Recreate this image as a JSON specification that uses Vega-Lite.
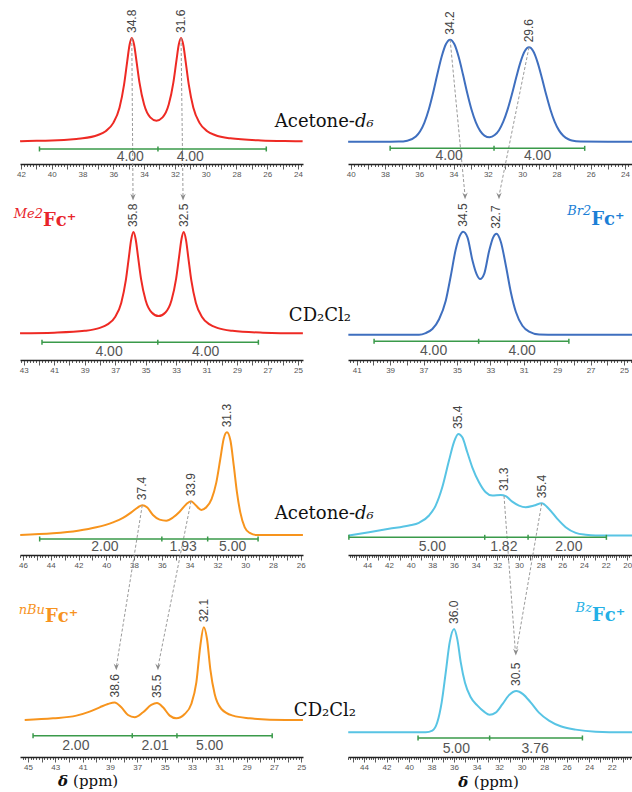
{
"$schema": "https://vega.github.io/schema/vega-lite/v6.json",
"background": "white",
"padding": {"left": 13, "top": 9, "right": 0, "bottom": 0},
"config": {
  "view": {"stroke": null},
  "axisX": {"domainColor": "#222", "domainWidth": 1.5, "tickColor": "#333", "tickWidth": 0.8, "labelFont": "Liberation Sans", "labelFontSize": 8, "labelColor": "#555", "labelPadding": 1, "grid": false},
  "style": {
    "peak": {"font": "Liberation Sans", "fontSize": 12, "color": "#444", "angle": 270, "align": "left", "baseline": "middle", "dx": 5},
    "ilab": {"font": "Liberation Sans", "fontSize": 14, "color": "#555", "align": "center", "baseline": "middle"},
    "solv": {"font": "DejaVu Serif", "fontSize": 18, "color": "#111", "baseline": "alphabetic"},
    "arrow": {"color": "#9a9a9a", "strokeDash": [3, 2], "strokeWidth": 1},
    "integ": {"color": "#3a9a4a", "strokeWidth": 1.5}
  }
},
"datasets": {
  "c1": [{"x":42.06,"y":0.007},{"x":42,"y":0.008},{"x":40,"y":0.015},{"x":38.4,"y":0.03},{"x":38,"y":0.035},{"x":37,"y":0.067},{"x":36.5,"y":0.104},{"x":36,"y":0.184},{"x":35.6,"y":0.33},{"x":35.3,"y":0.554},{"x":35.1,"y":0.773},{"x":34.95,"y":0.93},{"x":34.8,"y":1},{"x":34.65,"y":0.935},{"x":34.5,"y":0.783},{"x":34.3,"y":0.571},{"x":34,"y":0.36},{"x":33.6,"y":0.237},{"x":33.2,"y":0.205},{"x":32.8,"y":0.237},{"x":32.4,"y":0.36},{"x":32.1,"y":0.571},{"x":31.9,"y":0.783},{"x":31.75,"y":0.935},{"x":31.6,"y":1},{"x":31.45,"y":0.93},{"x":31.3,"y":0.773},{"x":31.1,"y":0.554},{"x":30.8,"y":0.33},{"x":30.4,"y":0.184},{"x":29.9,"y":0.104},{"x":29.4,"y":0.067},{"x":28.4,"y":0.035},{"x":26.4,"y":0.015},{"x":24,"y":0.008},{"x":23.7,"y":0.007}],
  "c2": [{"x":40.15,"y":0},{"x":38,"y":0},{"x":37.2,"y":0.001},{"x":36.7,"y":0.01},{"x":36.2,"y":0.051},{"x":35.95,"y":0.103},{"x":35.7,"y":0.188},{"x":35.45,"y":0.313},{"x":35.2,"y":0.475},{"x":34.95,"y":0.658},{"x":34.7,"y":0.83},{"x":34.45,"y":0.955},{"x":34.2,"y":1},{"x":33.95,"y":0.955},{"x":33.7,"y":0.83},{"x":33.45,"y":0.658},{"x":33.2,"y":0.475},{"x":32.95,"y":0.313},{"x":32.7,"y":0.189},{"x":32.45,"y":0.106},{"x":32.2,"y":0.06},{"x":31.9,"y":0.043},{"x":31.6,"y":0.065},{"x":31.35,"y":0.113},{"x":31.1,"y":0.196},{"x":30.85,"y":0.314},{"x":30.6,"y":0.463},{"x":30.35,"y":0.627},{"x":30.1,"y":0.778},{"x":29.85,"y":0.886},{"x":29.6,"y":0.925},{"x":29.35,"y":0.886},{"x":29.1,"y":0.778},{"x":28.85,"y":0.627},{"x":28.6,"y":0.463},{"x":28.35,"y":0.314},{"x":28.1,"y":0.195},{"x":27.85,"y":0.111},{"x":27.6,"y":0.058},{"x":27.3,"y":0.024},{"x":27.1,"y":0.012},{"x":26.6,"y":0.002},{"x":25,"y":0},{"x":23.54,"y":0}],
  "c3": [{"x":43.24,"y":0.007},{"x":41,"y":0.013},{"x":39,"y":0.031},{"x":38,"y":0.06},{"x":37.5,"y":0.094},{"x":37,"y":0.167},{"x":36.6,"y":0.305},{"x":36.3,"y":0.525},{"x":36.1,"y":0.752},{"x":35.95,"y":0.923},{"x":35.8,"y":1},{"x":35.65,"y":0.927},{"x":35.5,"y":0.761},{"x":35.3,"y":0.54},{"x":35,"y":0.331},{"x":34.6,"y":0.211},{"x":34.15,"y":0.176},{"x":33.7,"y":0.211},{"x":33.3,"y":0.331},{"x":33,"y":0.54},{"x":32.8,"y":0.761},{"x":32.65,"y":0.927},{"x":32.5,"y":1},{"x":32.35,"y":0.923},{"x":32.2,"y":0.752},{"x":32,"y":0.525},{"x":31.7,"y":0.305},{"x":31.3,"y":0.167},{"x":30.8,"y":0.094},{"x":30.3,"y":0.06},{"x":29.3,"y":0.031},{"x":27.3,"y":0.013},{"x":25,"y":0.007},{"x":24.68,"y":0.007}],
  "c4": [{"x":41.5,"y":0},{"x":37.27,"y":0},{"x":36.87,"y":0.016},{"x":36.47,"y":0.055},{"x":36.07,"y":0.15},{"x":35.67,"y":0.33},{"x":35.37,"y":0.57},{"x":35.07,"y":0.83},{"x":34.83,"y":0.96},{"x":34.63,"y":1},{"x":34.37,"y":0.945},{"x":34.07,"y":0.72},{"x":33.83,"y":0.59},{"x":33.61,"y":0.54},{"x":33.37,"y":0.59},{"x":33.07,"y":0.815},{"x":32.83,"y":0.945},{"x":32.63,"y":0.98},{"x":32.37,"y":0.9},{"x":32.07,"y":0.67},{"x":31.77,"y":0.41},{"x":31.47,"y":0.22},{"x":31.08,"y":0.087},{"x":30.68,"y":0.03},{"x":30.08,"y":0.003},{"x":29,"y":0},{"x":24.47,"y":0}],
  "c5": [{"x":46.2,"y":0},{"x":43.84,"y":0.016},{"x":42.04,"y":0.042},{"x":40.72,"y":0.075},{"x":39.52,"y":0.123},{"x":38.8,"y":0.166},{"x":38.2,"y":0.22},{"x":37.72,"y":0.27},{"x":37.41,"y":0.29},{"x":37.07,"y":0.27},{"x":36.64,"y":0.195},{"x":36.16,"y":0.15},{"x":35.68,"y":0.14},{"x":35.2,"y":0.17},{"x":34.72,"y":0.227},{"x":34.24,"y":0.3},{"x":33.9,"y":0.328},{"x":33.56,"y":0.29},{"x":33.16,"y":0.243},{"x":32.8,"y":0.27},{"x":32.42,"y":0.35},{"x":32.08,"y":0.51},{"x":31.79,"y":0.74},{"x":31.55,"y":0.935},{"x":31.31,"y":1},{"x":31.06,"y":0.92},{"x":30.82,"y":0.675},{"x":30.59,"y":0.415},{"x":30.35,"y":0.22},{"x":30.03,"y":0.075},{"x":29.67,"y":0.02},{"x":29.2,"y":0},{"x":25.84,"y":0}],
  "c6": [{"x":45.7,"y":0},{"x":43.84,"y":0.033},{"x":42,"y":0.066},{"x":40.15,"y":0.098},{"x":39.23,"y":0.125},{"x":38.3,"y":0.197},{"x":37.69,"y":0.295},{"x":37.08,"y":0.475},{"x":36.46,"y":0.738},{"x":36,"y":0.92},{"x":35.6,"y":1},{"x":35.23,"y":0.967},{"x":34.77,"y":0.82},{"x":34.31,"y":0.672},{"x":33.69,"y":0.525},{"x":33.07,"y":0.426},{"x":32.46,"y":0.393},{"x":31.69,"y":0.4},{"x":31.22,"y":0.387},{"x":30.62,"y":0.334},{"x":30,"y":0.295},{"x":29.38,"y":0.279},{"x":28.61,"y":0.295},{"x":27.9,"y":0.318},{"x":27.23,"y":0.262},{"x":26.46,"y":0.164},{"x":25.69,"y":0.082},{"x":24.76,"y":0.026},{"x":23.84,"y":0.007},{"x":22.92,"y":0},{"x":19.5,"y":0}],
  "c7": [{"x":45.24,"y":0},{"x":43.17,"y":0.018},{"x":41.46,"y":0.047},{"x":40.49,"y":0.09},{"x":39.75,"y":0.137},{"x":39.15,"y":0.173},{"x":38.66,"y":0.19},{"x":38.17,"y":0.137},{"x":37.68,"y":0.054},{"x":37.19,"y":0.029},{"x":36.58,"y":0.083},{"x":35.98,"y":0.162},{"x":35.56,"y":0.183},{"x":35.12,"y":0.137},{"x":34.63,"y":0.047},{"x":34.15,"y":0.018},{"x":33.53,"y":0.065},{"x":33.05,"y":0.173},{"x":32.68,"y":0.406},{"x":32.39,"y":0.8},{"x":32.14,"y":1},{"x":31.9,"y":0.874},{"x":31.66,"y":0.55},{"x":31.34,"y":0.28},{"x":30.85,"y":0.119},{"x":30,"y":0.047},{"x":28.78,"y":0.018},{"x":27.31,"y":0.004},{"x":25,"y":0},{"x":24.88,"y":0}],
  "c8": [{"x":45.4,"y":0},{"x":38.52,"y":0},{"x":37.93,"y":0.016},{"x":37.49,"y":0.097},{"x":37.1,"y":0.29},{"x":36.74,"y":0.58},{"x":36.39,"y":0.87},{"x":36,"y":1},{"x":35.71,"y":0.9},{"x":35.41,"y":0.68},{"x":35.03,"y":0.48},{"x":34.52,"y":0.34},{"x":33.94,"y":0.26},{"x":33.34,"y":0.2},{"x":32.84,"y":0.17},{"x":32.31,"y":0.19},{"x":31.72,"y":0.27},{"x":31.12,"y":0.36},{"x":30.47,"y":0.4},{"x":29.88,"y":0.37},{"x":29.2,"y":0.29},{"x":28.46,"y":0.19},{"x":27.57,"y":0.113},{"x":26.53,"y":0.058},{"x":25.2,"y":0.026},{"x":23.42,"y":0.006},{"x":21,"y":0},{"x":20.11,"y":0}]
},
"columns": 2,
"spacing": {"row": 40, "column": 45},
"bounds": "flush",
"concat": [
{
 "width": 283, "height": 152,
 "encoding": {
   "x": {"field": "x", "type": "quantitative", "scale": {"domain": [23.675, 42.065], "reverse": true, "nice": false, "zero": false}, "axis": {"title": null, "tickCount": 100, "labelOverlap": false, "labelFlush": false, "labelExpr": "abs(datum.value/2-round(datum.value/2))<0.01 ? format(datum.value,'d') : ''", "tickSize": {"condition": {"test": "abs(datum.value-round(datum.value))<0.01", "value": 5}, "value": 2.5}}},
   "y": {"field": "y", "type": "quantitative", "scale": {"domain": [-0.2115, 1.25], "nice": false, "zero": false}, "axis": null}
 },
 "layer": [
   {"data": {"name": "c1"}, "mark": {"type": "line", "color": "#ee2a24", "strokeWidth": 2, "interpolate": "monotone"}},
   {"data": {"values": [{"x": 34.8, "y": 1, "x2": 34.72, "y2": -0.53}, {"x": 31.6, "y": 1, "x2": 31.47, "y2": -0.53}]}, "mark": {"type": "rule", "style": "arrow"}, "encoding": {"x2": {"field": "x2"}, "y2": {"field": "y2"}}},
   {"data": {"values": [{"x": 34.72, "y": -0.53}, {"x": 31.47, "y": -0.53}]}, "mark": {"type": "point", "shape": "M-0.8,-1L0,1L0.8,-1L0,-0.3Z", "filled": true, "color": "#8a8a8a", "size": 45, "opacity": 1}},
   {"data": {"values": [{"x": 40.8, "x2": 26.06, "y": -0.067}]}, "mark": {"type": "rule", "style": "integ"}, "encoding": {"x2": {"field": "x2"}}},
   {"data": {"values": [{"x": 40.8, "y": -0.067}, {"x": 33.1, "y": -0.067}, {"x": 26.06, "y": -0.067}]}, "mark": {"type": "tick", "orient": "vertical", "color": "#3a9a4a", "size": 5, "thickness": 1.5, "opacity": 1}},
   {"data": {"values": [{"x": 34.9, "y": -0.144, "t": "4.00"}, {"x": 31.0, "y": -0.144, "t": "4.00"}]}, "mark": {"type": "text", "style": "ilab"}, "encoding": {"text": {"field": "t"}}},
   {"data": {"values": [{"x": 34.8, "y": 1, "t": "34.8"}, {"x": 31.6, "y": 1, "t": "31.6"}]}, "mark": {"type": "text", "style": "peak"}, "encoding": {"text": {"field": "t"}}},
   {"data": {"values": [{"x": 20.3, "y": 0.144, "t": "Acetone-"}]}, "mark": {"type": "text", "style": "solv", "align": "right"}, "encoding": {"text": {"field": "t"}}},
   {"data": {"values": [{"x": 20.3, "y": 0.144, "t": "d₆"}]}, "mark": {"type": "text", "style": "solv", "align": "left", "fontStyle": "italic"}, "encoding": {"text": {"field": "t"}}}
 ]
},
{
 "width": 285, "height": 152,
 "encoding": {
   "x": {"field": "x", "type": "quantitative", "scale": {"domain": [23.533, 40.158], "reverse": true, "nice": false, "zero": false}, "axis": {"title": null, "tickCount": 100, "labelOverlap": false, "labelFlush": false, "labelExpr": "abs(datum.value/2-round(datum.value/2))<0.01 ? format(datum.value,'d') : ''", "tickSize": {"condition": {"test": "abs(datum.value-round(datum.value))<0.01", "value": 5}, "value": 2.5}}},
   "y": {"field": "y", "type": "quantitative", "scale": {"domain": [-0.2186, 1.2716], "nice": false, "zero": false}, "axis": null}
 },
 "layer": [
   {"data": {"name": "c2"}, "mark": {"type": "line", "color": "#3f6fbf", "strokeWidth": 2, "interpolate": "monotone"}},
   {"data": {"values": [{"x": 34.2, "y": 1, "x2": 33.33, "y2": -0.532}, {"x": 29.6, "y": 0.925, "x2": 31.35, "y2": -0.532}]}, "mark": {"type": "rule", "style": "arrow"}, "encoding": {"x2": {"field": "x2"}, "y2": {"field": "y2"}}},
   {"data": {"values": [{"x": 33.33, "y": -0.532}, {"x": 31.35, "y": -0.532}]}, "mark": {"type": "point", "shape": "M-0.8,-1L0,1L0.8,-1L0,-0.3Z", "filled": true, "color": "#8a8a8a", "size": 45, "opacity": 1}},
   {"data": {"values": [{"x": 37.7, "x2": 26.35, "y": -0.065}]}, "mark": {"type": "rule", "style": "integ"}, "encoding": {"x2": {"field": "x2"}}},
   {"data": {"values": [{"x": 37.7, "y": -0.065}, {"x": 31.64, "y": -0.065}, {"x": 26.35, "y": -0.065}]}, "mark": {"type": "tick", "orient": "vertical", "color": "#3a9a4a", "size": 5, "thickness": 1.5, "opacity": 1}},
   {"data": {"values": [{"x": 34.26, "y": -0.137, "t": "4.00"}, {"x": 29.1, "y": -0.137, "t": "4.00"}]}, "mark": {"type": "text", "style": "ilab"}, "encoding": {"text": {"field": "t"}}},
   {"data": {"values": [{"x": 34.2, "y": 1, "t": "34.2"}, {"x": 29.6, "y": 0.925, "t": "29.6"}]}, "mark": {"type": "text", "style": "peak"}, "encoding": {"text": {"field": "t"}}}
 ]
},
{
 "width": 283, "height": 156,
 "encoding": {
   "x": {"field": "x", "type": "quantitative", "scale": {"domain": [24.672, 43.243], "reverse": true, "nice": false, "zero": false}, "axis": {"title": null, "tickCount": 100, "labelOverlap": false, "labelFlush": false, "labelExpr": "abs((datum.value-1)/2-round((datum.value-1)/2))<0.01 ? format(datum.value,'d') : ''", "tickSize": {"condition": {"test": "abs(datum.value-round(datum.value))<0.01", "value": 5}, "value": 2.5}}},
   "y": {"field": "y", "type": "quantitative", "scale": {"domain": [-0.2549, 1.2745], "nice": false, "zero": false}, "axis": null}
 },
 "layer": [
   {"data": {"name": "c3"}, "mark": {"type": "line", "color": "#ee2a24", "strokeWidth": 2, "interpolate": "monotone"}},
   {"data": {"values": [{"x": 41.8, "x2": 27.6, "y": -0.081}]}, "mark": {"type": "rule", "style": "integ"}, "encoding": {"x2": {"field": "x2"}}},
   {"data": {"values": [{"x": 41.8, "y": -0.081}, {"x": 34.2, "y": -0.081}, {"x": 27.6, "y": -0.081}]}, "mark": {"type": "tick", "orient": "vertical", "color": "#3a9a4a", "size": 5, "thickness": 1.5, "opacity": 1}},
   {"data": {"values": [{"x": 37.4, "y": -0.176, "t": "4.00"}, {"x": 31.06, "y": -0.176, "t": "4.00"}]}, "mark": {"type": "text", "style": "ilab"}, "encoding": {"text": {"field": "t"}}},
   {"data": {"values": [{"x": 35.8, "y": 1, "t": "35.8"}, {"x": 32.5, "y": 1, "t": "32.5"}]}, "mark": {"type": "text", "style": "peak"}, "encoding": {"text": {"field": "t"}}},
   {"data": {"values": [{"x": 23.56, "y": 0.127, "t": "CD₂Cl₂"}]}, "mark": {"type": "text", "style": "solv", "align": "center"}, "encoding": {"text": {"field": "t"}}},
   {"data": {"values": [{"x": 41.73, "y": 1.137, "t": "Me2"}]}, "mark": {"type": "text", "font": "DejaVu Serif", "fontSize": 13, "fontStyle": "italic", "color": "#e8242a", "align": "right", "baseline": "alphabetic"}, "encoding": {"text": {"field": "t"}}},
   {"data": {"values": [{"x": 41.73, "y": 1.059, "t": "Fc⁺"}]}, "mark": {"type": "text", "font": "DejaVu Serif", "fontSize": 18, "fontWeight": "bold", "color": "#e8242a", "align": "left", "baseline": "alphabetic"}, "encoding": {"text": {"field": "t"}}}
 ]
},
{
 "width": 285, "height": 156,
 "encoding": {
   "x": {"field": "x", "type": "quantitative", "scale": {"domain": [24.461, 41.521], "reverse": true, "nice": false, "zero": false}, "axis": {"title": null, "tickCount": 100, "labelOverlap": false, "labelFlush": false, "labelExpr": "abs((datum.value-1)/2-round((datum.value-1)/2))<0.01 ? format(datum.value,'d') : ''", "tickSize": {"condition": {"test": "abs(datum.value-round(datum.value))<0.01", "value": 5}, "value": 2.5}}},
   "y": {"field": "y", "type": "quantitative", "scale": {"domain": [-0.2456, 1.2689], "nice": false, "zero": false}, "axis": null}
 },
 "layer": [
   {"data": {"name": "c4"}, "mark": {"type": "line", "color": "#3f6fbf", "strokeWidth": 2, "interpolate": "monotone"}},
   {"data": {"values": [{"x": 39.96, "x2": 28.3, "y": -0.064}]}, "mark": {"type": "rule", "style": "integ"}, "encoding": {"x2": {"field": "x2"}}},
   {"data": {"values": [{"x": 39.96, "y": -0.064}, {"x": 33.7, "y": -0.064}, {"x": 28.3, "y": -0.064}]}, "mark": {"type": "tick", "orient": "vertical", "color": "#3a9a4a", "size": 5, "thickness": 1.5, "opacity": 1}},
   {"data": {"values": [{"x": 36.4, "y": -0.161, "t": "4.00"}, {"x": 31.1, "y": -0.161, "t": "4.00"}]}, "mark": {"type": "text", "style": "ilab"}, "encoding": {"text": {"field": "t"}}},
   {"data": {"values": [{"x": 34.63, "y": 1, "t": "34.5"}, {"x": 32.65, "y": 0.98, "t": "32.7"}]}, "mark": {"type": "text", "style": "peak"}, "encoding": {"text": {"field": "t"}}},
   {"data": {"values": [{"x": 26.96, "y": 1.162, "t": "Br2"}]}, "mark": {"type": "text", "font": "DejaVu Serif", "fontSize": 13, "fontStyle": "italic", "color": "#1c7fd6", "align": "right", "baseline": "alphabetic"}, "encoding": {"text": {"field": "t"}}},
   {"data": {"values": [{"x": 26.96, "y": 1.065, "t": "Fc⁺"}]}, "mark": {"type": "text", "font": "DejaVu Serif", "fontSize": 18, "fontWeight": "bold", "color": "#1c7fd6", "align": "left", "baseline": "alphabetic"}, "encoding": {"text": {"field": "t"}}}
 ]
},
{
 "width": 283, "height": 155,
 "encoding": {
   "x": {"field": "x", "type": "quantitative", "scale": {"domain": [25.834, 46.216], "reverse": true, "nice": false, "zero": false}, "axis": {"title": null, "tickCount": 100, "labelOverlap": false, "labelFlush": false, "labelExpr": "abs(datum.value/2-round(datum.value/2))<0.01 ? format(datum.value,'d') : ''", "tickSize": {"condition": {"test": "abs(datum.value-round(datum.value))<0.01", "value": 5}, "value": 2.5}}},
   "y": {"field": "y", "type": "quantitative", "scale": {"domain": [-0.1947, 1.3145], "nice": false, "zero": false}, "axis": null}
 },
 "layer": [
   {"data": {"name": "c5"}, "mark": {"type": "line", "color": "#f7941d", "strokeWidth": 2, "interpolate": "monotone"}},
   {"data": {"values": [{"x": 37.41, "y": 0.29, "x2": 39.28, "y2": -1.285}, {"x": 33.9, "y": 0.328, "x2": 36.28, "y2": -1.285}]}, "mark": {"type": "rule", "style": "arrow"}, "encoding": {"x2": {"field": "x2"}, "y2": {"field": "y2"}}},
   {"data": {"values": [{"x": 39.28, "y": -1.285}, {"x": 36.28, "y": -1.285}]}, "mark": {"type": "point", "shape": "M-0.8,-1L0,1L0.8,-1L0,-0.3Z", "filled": true, "color": "#8a8a8a", "size": 45, "opacity": 1}},
   {"data": {"values": [{"x": 44.8, "x2": 29.07, "y": -0.039}]}, "mark": {"type": "rule", "style": "integ"}, "encoding": {"x2": {"field": "x2"}}},
   {"data": {"values": [{"x": 44.8, "y": -0.039}, {"x": 36.0, "y": -0.039}, {"x": 32.7, "y": -0.039}, {"x": 29.07, "y": -0.039}]}, "mark": {"type": "tick", "orient": "vertical", "color": "#3a9a4a", "size": 5, "thickness": 1.5, "opacity": 1}},
   {"data": {"values": [{"x": 40.1, "y": -0.12, "t": "2.00"}, {"x": 34.47, "y": -0.12, "t": "1.93"}, {"x": 30.9, "y": -0.12, "t": "5.00"}]}, "mark": {"type": "text", "style": "ilab"}, "encoding": {"text": {"field": "t"}}},
   {"data": {"values": [{"x": 37.41, "y": 0.29, "t": "37.4"}, {"x": 33.9, "y": 0.328, "t": "33.9"}, {"x": 31.31, "y": 1, "t": "31.3"}]}, "mark": {"type": "text", "style": "peak"}, "encoding": {"text": {"field": "t"}}},
   {"data": {"values": [{"x": 22.09, "y": 0.156, "t": "Acetone-"}]}, "mark": {"type": "text", "style": "solv", "align": "right"}, "encoding": {"text": {"field": "t"}}},
   {"data": {"values": [{"x": 22.09, "y": 0.156, "t": "d₆"}]}, "mark": {"type": "text", "style": "solv", "align": "left", "fontStyle": "italic"}, "encoding": {"text": {"field": "t"}}}
 ]
},
{
 "width": 285, "height": 155,
 "encoding": {
   "x": {"field": "x", "type": "quantitative", "scale": {"domain": [19.474, 45.782], "reverse": true, "nice": false, "zero": false}, "axis": {"title": null, "tickCount": 100, "labelOverlap": false, "labelFlush": false, "labelExpr": "abs(datum.value/2-round(datum.value/2))<0.01 ? format(datum.value,'d') : ''", "tickSize": {"condition": {"test": "abs(datum.value-round(datum.value))<0.01", "value": 5}, "value": 2.5}}},
   "y": {"field": "y", "type": "quantitative", "scale": {"domain": [-0.1921, 1.335], "nice": false, "zero": false}, "axis": null}
 },
 "layer": [
   {"data": {"name": "c6"}, "mark": {"type": "line", "color": "#58c4e4", "strokeWidth": 2, "interpolate": "monotone"}},
   {"data": {"values": [{"x": 31.38, "y": 0.39, "x2": 30.33, "y2": -1.148}, {"x": 27.9, "y": 0.318, "x2": 30.25, "y2": -1.148}]}, "mark": {"type": "rule", "style": "arrow"}, "encoding": {"x2": {"field": "x2"}, "y2": {"field": "y2"}}},
   {"data": {"values": [{"x": 30.29, "y": -1.148}]}, "mark": {"type": "point", "shape": "M-0.8,-1L0,1L0.8,-1L0,-0.3Z", "filled": true, "color": "#8a8a8a", "size": 45, "opacity": 1}},
   {"data": {"values": [{"x": 45.7, "x2": 21.93, "y": -0.018}]}, "mark": {"type": "rule", "style": "integ"}, "encoding": {"x2": {"field": "x2"}}},
   {"data": {"values": [{"x": 45.7, "y": -0.018}, {"x": 33.16, "y": -0.018}, {"x": 29.16, "y": -0.018}, {"x": 21.93, "y": -0.018}]}, "mark": {"type": "tick", "orient": "vertical", "color": "#3a9a4a", "size": 5, "thickness": 1.5, "opacity": 1}},
   {"data": {"values": [{"x": 38.0, "y": -0.11, "t": "5.00"}, {"x": 31.4, "y": -0.11, "t": "1.82"}, {"x": 25.4, "y": -0.11, "t": "2.00"}]}, "mark": {"type": "text", "style": "ilab"}, "encoding": {"text": {"field": "t"}}},
   {"data": {"values": [{"x": 35.6, "y": 1, "t": "35.4"}, {"x": 31.38, "y": 0.39, "t": "31.3"}, {"x": 27.9, "y": 0.318, "t": "35.4"}]}, "mark": {"type": "text", "style": "peak"}, "encoding": {"text": {"field": "t"}}}
 ]
},
{
 "width": 283, "height": 162,
 "encoding": {
   "x": {"field": "x", "type": "quantitative", "scale": {"domain": [24.876, 45.585], "reverse": true, "nice": false, "zero": false}, "axis": {"title": null, "tickCount": 100, "labelOverlap": false, "labelFlush": false, "labelExpr": "abs((datum.value-1)/2-round((datum.value-1)/2))<0.01 ? format(datum.value,'d') : ''", "tickSize": {"condition": {"test": "abs(datum.value-round(datum.value))<0.01", "value": 5}, "value": 2.5}}},
   "y": {"field": "y", "type": "quantitative", "scale": {"domain": [-0.3991, 1.3484], "nice": false, "zero": false}, "axis": null}
 },
 "layer": [
   {"data": {"name": "c7"}, "mark": {"type": "line", "color": "#f7941d", "strokeWidth": 2, "interpolate": "monotone"}},
   {"data": {"values": [{"x": 44.63, "x2": 27.13, "y": -0.169}]}, "mark": {"type": "rule", "style": "integ"}, "encoding": {"x2": {"field": "x2"}}},
   {"data": {"values": [{"x": 44.63, "y": -0.169}, {"x": 37.37, "y": -0.169}, {"x": 34.1, "y": -0.169}, {"x": 27.13, "y": -0.169}]}, "mark": {"type": "tick", "orient": "vertical", "color": "#3a9a4a", "size": 5, "thickness": 1.5, "opacity": 1}},
   {"data": {"values": [{"x": 41.5, "y": -0.277, "t": "2.00"}, {"x": 35.7, "y": -0.277, "t": "2.01"}, {"x": 31.7, "y": -0.277, "t": "5.00"}]}, "mark": {"type": "text", "style": "ilab"}, "encoding": {"text": {"field": "t"}}},
   {"data": {"values": [{"x": 38.66, "y": 0.19, "t": "38.6"}, {"x": 35.56, "y": 0.183, "t": "35.5"}, {"x": 32.14, "y": 1, "t": "32.1"}]}, "mark": {"type": "text", "style": "peak"}, "encoding": {"text": {"field": "t"}}},
   {"data": {"values": [{"x": 23.27, "y": 0.043, "t": "CD₂Cl₂"}]}, "mark": {"type": "text", "style": "solv", "align": "center"}, "encoding": {"text": {"field": "t"}}},
   {"data": {"values": [{"x": 43.76, "y": 1.143, "t": "nBu"}]}, "mark": {"type": "text", "font": "DejaVu Serif", "fontSize": 13, "fontStyle": "italic", "color": "#f7931e", "align": "right", "baseline": "alphabetic"}, "encoding": {"text": {"field": "t"}}},
   {"data": {"values": [{"x": 43.76, "y": 1.054, "t": "Fc⁺"}]}, "mark": {"type": "text", "font": "DejaVu Serif", "fontSize": 18, "fontWeight": "bold", "color": "#f7931e", "align": "left", "baseline": "alphabetic"}, "encoding": {"text": {"field": "t"}}},
   {"data": {"values": [{"x": 42.8, "y": -0.715, "t": "δ"}]}, "mark": {"type": "text", "font": "DejaVu Serif", "fontSize": 15, "fontWeight": "bold", "fontStyle": "italic", "color": "#111", "align": "left", "baseline": "alphabetic"}, "encoding": {"text": {"field": "t"}}},
   {"data": {"values": [{"x": 41.7, "y": -0.715, "t": "(ppm)"}]}, "mark": {"type": "text", "font": "DejaVu Serif", "fontSize": 15, "color": "#111", "align": "left", "baseline": "alphabetic"}, "encoding": {"text": {"field": "t"}}}
 ]
},
{
 "width": 285, "height": 162,
 "encoding": {
   "x": {"field": "x", "type": "quantitative", "scale": {"domain": [20.108, 45.421], "reverse": true, "nice": false, "zero": false}, "axis": {"title": null, "tickCount": 100, "labelOverlap": false, "labelFlush": false, "labelExpr": "abs(datum.value/2-round(datum.value/2))<0.01 ? format(datum.value,'d') : ''", "tickSize": {"condition": {"test": "abs(datum.value-round(datum.value))<0.01", "value": 5}, "value": 2.5}}},
   "y": {"field": "y", "type": "quantitative", "scale": {"domain": [-0.2391, 1.3291], "nice": false, "zero": false}, "axis": null}
 },
 "layer": [
   {"data": {"name": "c8"}, "mark": {"type": "line", "color": "#58c4e4", "strokeWidth": 2, "interpolate": "monotone"}},
   {"data": {"values": [{"x": 39.2, "x2": 24.6, "y": -0.055}]}, "mark": {"type": "rule", "style": "integ"}, "encoding": {"x2": {"field": "x2"}}},
   {"data": {"values": [{"x": 39.2, "y": -0.055}, {"x": 32.84, "y": -0.055}, {"x": 24.6, "y": -0.055}]}, "mark": {"type": "tick", "orient": "vertical", "color": "#3a9a4a", "size": 5, "thickness": 1.5, "opacity": 1}},
   {"data": {"values": [{"x": 35.8, "y": -0.162, "t": "5.00"}, {"x": 28.8, "y": -0.162, "t": "3.76"}]}, "mark": {"type": "text", "style": "ilab"}, "encoding": {"text": {"field": "t"}}},
   {"data": {"values": [{"x": 36.0, "y": 1, "t": "36.0"}, {"x": 30.47, "y": 0.4, "t": "30.5"}]}, "mark": {"type": "text", "style": "peak"}, "encoding": {"text": {"field": "t"}}},
   {"data": {"values": [{"x": 23.75, "y": 1.162, "t": "Bz"}]}, "mark": {"type": "text", "font": "DejaVu Serif", "fontSize": 13, "fontStyle": "italic", "color": "#24b0e6", "align": "right", "baseline": "alphabetic"}, "encoding": {"text": {"field": "t"}}},
   {"data": {"values": [{"x": 23.75, "y": 1.08, "t": "Fc⁺"}]}, "mark": {"type": "text", "font": "DejaVu Serif", "fontSize": 18, "fontWeight": "bold", "color": "#24b0e6", "align": "left", "baseline": "alphabetic"}, "encoding": {"text": {"field": "t"}}},
   {"data": {"values": [{"x": 35.63, "y": -0.525, "t": "δ"}]}, "mark": {"type": "text", "font": "DejaVu Serif", "fontSize": 15, "fontWeight": "bold", "fontStyle": "italic", "color": "#111", "align": "left", "baseline": "alphabetic"}, "encoding": {"text": {"field": "t"}}},
   {"data": {"values": [{"x": 34.25, "y": -0.525, "t": "(ppm)"}]}, "mark": {"type": "text", "font": "DejaVu Serif", "fontSize": 15, "color": "#111", "align": "left", "baseline": "alphabetic"}, "encoding": {"text": {"field": "t"}}}
 ]
}
]
}
